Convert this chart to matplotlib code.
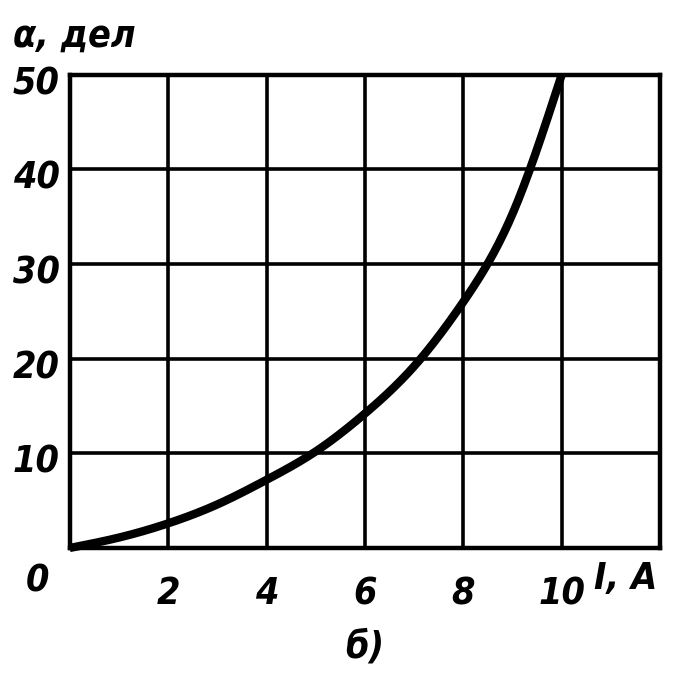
import matplotlib
matplotlib.use("Agg")
import matplotlib.pyplot as plt
import numpy as np

# Data
current_A = [0, 1, 2, 3, 4, 5, 6, 7, 8, 9, 10]
alpha_div = [0, 1.1, 2.6, 4.6, 7.2, 10.2, 14.2, 19.2, 26.0, 35.3, 50.0]
x_ticks = [2, 4, 6, 8, 10]
x_tick_labels = ["2", "4", "6", "8", "10"]
y_ticks = [10, 20, 30, 40, 50]
y_tick_labels = ["10", "20", "30", "40", "50"]

fkw = dict(family=["DejaVu Sans"], style="oblique", weight="bold",
           stretch="condensed", size=27)

fig = plt.figure(figsize=(6.84, 6.74), dpi=100)
ax = fig.add_axes([0.102, 0.187, 0.863, 0.702])

# natural cubic spline through the read points
xs = np.array(current_A, dtype=float)
ys = np.array(alpha_div, dtype=float)
n = len(xs)
h = np.diff(xs)
A = np.zeros((n, n))
b = np.zeros(n)
A[0, 0] = 1
A[-1, -1] = 1
for i in range(1, n - 1):
    A[i, i - 1] = h[i - 1]
    A[i, i] = 2 * (h[i - 1] + h[i])
    A[i, i + 1] = h[i]
    b[i] = 3 * ((ys[i + 1] - ys[i]) / h[i] - (ys[i] - ys[i - 1]) / h[i - 1])
c = np.linalg.solve(A, b)
bb = (ys[1:] - ys[:-1]) / h - h * (2 * c[:-1] + c[1:]) / 3
dd = (c[1:] - c[:-1]) / (3 * h)
xd = np.linspace(xs[0], xs[-1], 400)
idx = np.clip(np.searchsorted(xs, xd) - 1, 0, n - 2)
dx = xd - xs[idx]
yd = ys[idx] + bb[idx] * dx + c[idx] * dx**2 + dd[idx] * dx**3

ax.plot(xd, yd, color="black", lw=6, solid_capstyle="butt", clip_on=False, zorder=5)

ax.set_xlim(0, 12)
ax.set_ylim(0, 50)
ax.set_xticks(np.arange(0, 13, 2))
ax.set_yticks(np.arange(0, 51, 10))
ax.grid(True, color="black", lw=2.6)
ax.tick_params(length=0, labelbottom=False, labelleft=False)
for s in ax.spines.values():
    s.set_linewidth(3.2)
    s.set_color("black")

# tick labels as text
for xv, lab in zip(x_ticks, x_tick_labels):
    ax.text(xv, -3.0, lab, ha="center", va="top", **fkw)
for yv, lab in zip(y_ticks, y_tick_labels):
    ax.text(-0.2, yv - 1.0, lab, ha="right", va="center", **fkw)
ax.text(-0.65, -1.6, "0", ha="center", va="top", **fkw)
ax.text(11.3, -1.4, "I, A", ha="center", va="top", **fkw)
ax.text(-1.15, 54.0, "α, дел", ha="left", va="center", **fkw)
ax.text(6.0, -10.5, "б)", ha="center", va="center", **fkw)

fig.savefig("out.png", dpi=100)
